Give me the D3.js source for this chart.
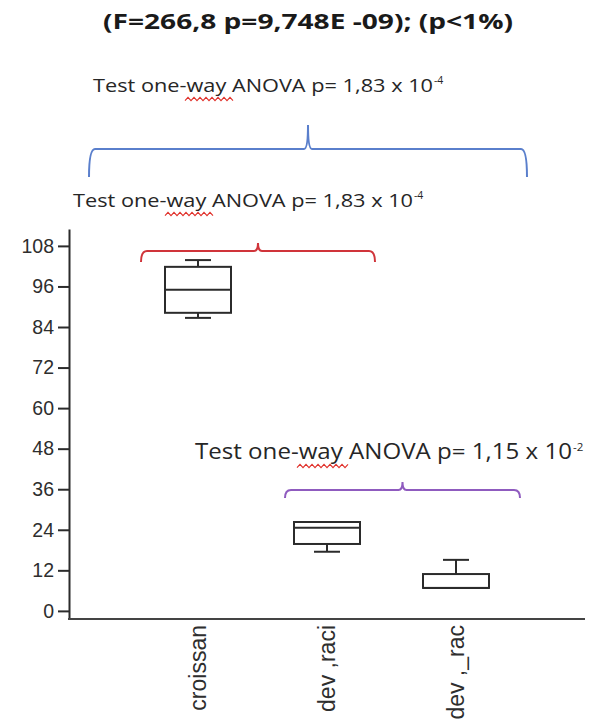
<!DOCTYPE html>
<html>
<head>
<meta charset="utf-8">
<script src="https://cdn.jsdelivr.net/npm/d3@7"></script>
<style>
  html, body { margin: 0; padding: 0; background: #fff; }
  svg { display: block; }
</style>
</head>
<body>
<svg id="chart" width="590" height="719"></svg>
<script>
// Groups and their box-plot summaries
const categories = ["croissan", "dev ,raci", "dev ,_rac"];
const whiskerLow = [86.7, 17.5, 6.8];
const quartile1 = [88.2, 19.8, 6.8];
const medians = [95.0, 24.6, 6.8];
const quartile3 = [101.8, 26.3, 10.9];
const whiskerHigh = [103.8, 26.3, 15.1];
const yTicks = [0, 12, 24, 36, 48, 60, 72, 84, 96, 108];

const titleText = "(F=266,8 p=9,748E -09); (p<1%)";
const annotationTexts = [
  { main: "Test one-way ANOVA p= 1,83 x 10", exp: "-4" },
  { main: "Test one-way ANOVA p= 1,83 x 10", exp: "-4" },
  { main: "Test one-way ANOVA p= 1,15 x 10", exp: "-2" }
];

const svg = d3.select("#chart");
const ink = "#2b2b2b";

const x = d3.scalePoint().domain(categories).range([198, 456]);
const y = d3.scaleLinear().domain([-2.4, 113]).range([619, 229]);

// Title
svg.append("text")
  .attr("x", 103).attr("y", 29)
  .attr("textLength", 410).attr("lengthAdjust", "spacingAndGlyphs")
  .style("font-family", "'Open Sans', 'Liberation Sans', sans-serif")
  .style("font-weight", 700).style("font-size", "21px")
  .attr("fill", "#1a1a1a")
  .text(titleText);

// Y axis
const yAxis = svg.append("g")
  .attr("transform", "translate(69,0)")
  .call(d3.axisLeft(y).tickValues(yTicks).tickSize(11).tickSizeOuter(0).tickPadding(4));
yAxis.select(".domain").attr("stroke", ink).attr("stroke-width", 2);
yAxis.selectAll(".tick line").attr("stroke", ink).attr("stroke-width", 2);
yAxis.selectAll(".tick text")
  .style("font-family", "'Liberation Sans', Arial, sans-serif")
  .style("font-size", "19.5px").attr("fill", "#2e2e2e");

// X axis baseline and rotated category labels
svg.append("line")
  .attr("x1", 68).attr("x2", 585)
  .attr("y1", y(-2.4)).attr("y2", y(-2.4))
  .attr("stroke", "#444").attr("stroke-width", 2);

svg.append("g").selectAll("text")
  .data(categories).join("text")
  .attr("transform", d => `translate(${x(d) + 8},625) rotate(-90)`)
  .attr("text-anchor", "end")
  .style("font-family", "'Liberation Sans', Arial, sans-serif")
  .style("font-size", "23px").attr("fill", "#2e2e2e")
  .text(d => d);

// Box plots
const boxW = 66, capW = 26;
const boxes = svg.append("g").attr("stroke", ink).attr("stroke-width", 2).attr("fill", "none");
categories.forEach((c, i) => {
  const cx = x(c);
  const g = boxes.append("g");
  // whiskers
  g.append("line").attr("x1", cx).attr("x2", cx).attr("y1", y(whiskerHigh[i])).attr("y2", y(quartile3[i]));
  g.append("line").attr("x1", cx).attr("x2", cx).attr("y1", y(quartile1[i])).attr("y2", y(whiskerLow[i]));
  if (whiskerHigh[i] > quartile3[i])
    g.append("line").attr("x1", cx - capW / 2).attr("x2", cx + capW / 2).attr("y1", y(whiskerHigh[i])).attr("y2", y(whiskerHigh[i]));
  if (whiskerLow[i] < quartile1[i])
    g.append("line").attr("x1", cx - capW / 2).attr("x2", cx + capW / 2).attr("y1", y(whiskerLow[i])).attr("y2", y(whiskerLow[i]));
  // box
  g.append("rect")
    .attr("x", cx - boxW / 2).attr("width", boxW)
    .attr("y", y(quartile3[i])).attr("height", y(quartile1[i]) - y(quartile3[i]))
    .attr("fill", "#fff");
  g.append("line").attr("x1", cx - boxW / 2).attr("x2", cx + boxW / 2).attr("y1", y(medians[i])).attr("y2", y(medians[i]));
});

// Comparison brackets
function bracket(x0, x1, yh, drop, rise, color) {
  const xm = (x0 + x1) / 2, r = 6;
  const p = d3.path();
  p.moveTo(x0, yh + drop);
  p.quadraticCurveTo(x0, yh, x0 + r, yh);
  p.lineTo(xm - 4, yh);
  p.quadraticCurveTo(xm, yh, xm, yh - rise);
  p.quadraticCurveTo(xm, yh, xm + 4, yh);
  p.lineTo(x1 - r, yh);
  p.quadraticCurveTo(x1, yh, x1, yh + drop);
  svg.append("path").attr("d", p.toString())
    .attr("fill", "none").attr("stroke", color).attr("stroke-width", 2);
}
bracket(89, 527, 149, 28, 24, "#5a7fcc");
bracket(141, 375, 251, 11, 8, "#d0343a");
bracket(285, 520, 490, 8, 8, "#8f5bbf");

// Test annotations with spell-check squiggles under "way"
const annoLayout = [
  { x: 93, y: 92, size: 19, len: 340 },
  { x: 73, y: 207, size: 19, len: 340 },
  { x: 195, y: 459, size: 21, len: 377 }
];
annotationTexts.forEach((a, i) => {
  const L = annoLayout[i];
  svg.append("text")
    .attr("x", L.x).attr("y", L.y)
    .attr("textLength", L.len).attr("lengthAdjust", "spacingAndGlyphs")
    .style("font-family", "'Open Sans', 'Liberation Sans', sans-serif")
    .style("font-size", L.size + "px").attr("fill", "#262626")
    .text(a.main);
  svg.append("text")
    .attr("x", L.x + L.len + 1).attr("y", L.y - 8)
    .style("font-family", "'Open Sans', 'Liberation Sans', sans-serif")
    .style("font-size", (L.size * 0.55) + "px").attr("fill", "#262626")
    .text(a.exp);
  // wavy underline
  const k = L.len / 340;
  const sx0 = L.x + 92 * k, sx1 = L.x + 140 * k, sy = L.y + 7;
  const pts = [];
  for (let sx = sx0, j = 0; sx <= sx1; sx += 3, j++) pts.push([sx, sy + (j % 2 ? -1.6 : 1.6)]);
  svg.append("path").attr("d", d3.line()(pts))
    .attr("fill", "none").attr("stroke", "#e0302a").attr("stroke-width", 1.1);
});
</script>
</body>
</html>
